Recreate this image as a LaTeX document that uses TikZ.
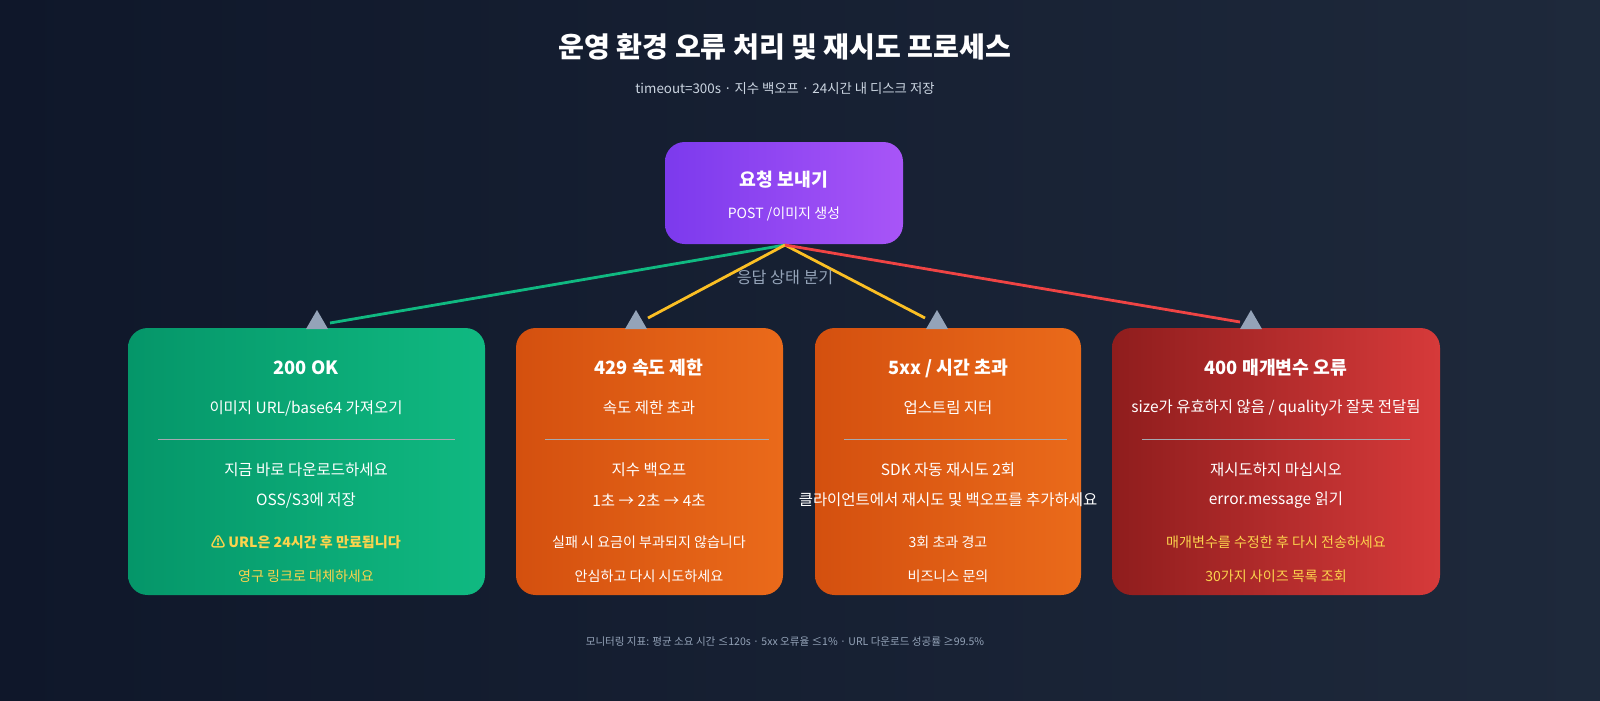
\documentclass[tikz,border=0pt]{standalone}
\usepackage{fontspec}
\setmainfont{Noto Sans CJK KR}
\usetikzlibrary{positioning}
\definecolor{bgA}{HTML}{0F172A}
\definecolor{bgB}{HTML}{1E293B}
\definecolor{grA}{HTML}{059669}
\definecolor{grB}{HTML}{10B981}
\definecolor{orA}{HTML}{D4500F}
\definecolor{orB}{HTML}{EA6A1A}
\definecolor{rdA}{HTML}{8F1D1D}
\definecolor{rdB}{HTML}{D63A3A}
\definecolor{puA}{HTML}{7C3AED}
\definecolor{puB}{HTML}{A855F7}
\definecolor{lnG}{HTML}{10B981}
\definecolor{lnY}{HTML}{FBBF24}
\definecolor{lnR}{HTML}{EF4444}
\definecolor{tipC}{HTML}{94A3B8}
\definecolor{warnC}{HTML}{FCD34D}
\definecolor{subC}{HTML}{CBD5E1}
\tikzset{
  txt/.style={text=white,font=\fontsize{11}{13}\selectfont},
  head/.style={text=white,font=\fontsize{13}{15}\selectfont\bfseries},
  warn/.style={text=warnC,font=\fontsize{10}{12}\selectfont},
  rule/.style={white!60!bgB,line width=0.6pt},
  conn/.style={line width=2pt},
  tip/.style={fill=tipC}
}
\newcommand{\tipat}[1]{\fill[tip] ($(#1)+(-11,5)$) -- ($(#1)+(0,-14)$) -- ($(#1)+(11,5)$) -- cycle;}
\usetikzlibrary{calc}
\begin{document}
\begin{tikzpicture}[x=0.025cm,y=-0.025cm]
\useasboundingbox (0,0) rectangle (1600,700);
\shade[left color=bgA,right color=bgB] (0,0) rectangle (1600,700);
% title
\node[text=white,font=\fontsize{20}{24}\selectfont\bfseries] (title) at (785,47) {운영 환경 오류 처리 및 재시도 프로세스};
\node[text=subC,font=\fontsize{9.5}{11}\selectfont] (sub) at (785,88) {timeout=300s · 지수 백오프 · 24시간 내 디스크 저장};
% boxes
\shade[rounded corners=14,left color=puA,right color=puB] (665,142) rectangle (903,244);
\shade[rounded corners=14,left color=grA,right color=grB] (128,328) rectangle (485,595);
\shade[rounded corners=14,left color=orA,right color=orB] (516,328) rectangle (783,595);
\shade[rounded corners=14,left color=orA,right color=orB] (815,328) rectangle (1081,595);
\shade[rounded corners=14,left color=rdA,right color=rdB] (1112,328) rectangle (1440,595);
\node[head] (req) at (784,180) {요청 보내기};
\node[txt,font=\fontsize{10}{12}\selectfont] (reqsub) at (784,214) {POST /이미지 생성};
\coordinate (src) at (785,245);
% connectors
\coordinate (eG) at (330,323);
\coordinate (eO) at (648,318);
\coordinate (eP) at (925,318);
\coordinate (eR) at (1240,322);
\draw[conn,lnG] (src) -- (eG);
\draw[conn,lnY] (src) -- (eO);
\draw[conn,lnY] (src) -- (eP);
\draw[conn,lnR] (src) -- (eR);
\tipat{317,324}
\tipat{636,324}
\tipat{937,324}
\tipat{1251,324}
\node[text=tipC,font=\fontsize{11.5}{13}\selectfont] (branch) at (785,277) {응답 상태 분기};
% 200
\node[head] (okH) at (306,368) {200 OK};
\node[txt] (okA) at (306,408) {이미지 URL/base64 가져오기};
\draw[rule] (158,439) -- (455,439);
\node[txt] (okB) at (306,470) {지금 바로 다운로드하세요};
\node[txt] (okC) at (306,500) {OSS/S3에 저장};
\node[warn,font=\fontsize{10}{12}\selectfont\bfseries] (okD) at (306,542) {⚠ URL은 24시간 후 만료됩니다};
\node[warn] (okE) at (306,576) {영구 링크로 대체하세요};
% 429
\node[head] (rtH) at (649,368) {429 속도 제한};
\node[txt] (rtA) at (649,408) {속도 제한 초과};
\draw[rule] (545,439) -- (769,439);
\node[txt] (rtB) at (649,470) {지수 백오프};
\node[txt] (rtC) at (649,500) {1초 → 2초 → 4초};
\node[txt,font=\fontsize{10}{12}\selectfont] (rtD) at (649,542) {실패 시 요금이 부과되지 않습니다};
\node[txt,font=\fontsize{10}{12}\selectfont] (rtE) at (649,576) {안심하고 다시 시도하세요};
% 5xx
\node[head] (svH) at (948,368) {5xx / 시간 초과};
\node[txt] (svA) at (948,408) {업스트림 지터};
\draw[rule] (844,439) -- (1067,439);
\node[txt] (svB) at (948,470) {SDK 자동 재시도 2회};
\node[txt] (svC) at (948,500) {클라이언트에서 재시도 및 백오프를 추가하세요};
\node[txt,font=\fontsize{10}{12}\selectfont] (svD) at (948,542) {3회 초과 경고};
\node[txt,font=\fontsize{10}{12}\selectfont] (svE) at (948,576) {비즈니스 문의};
% 400
\node[head] (bdH) at (1276,368) {400 매개변수 오류};
\node[txt] (bdA) at (1276,408) {size가 유효하지 않음 / quality가 잘못 전달됨};
\draw[rule] (1142,439) -- (1410,439);
\node[txt] (bdB) at (1276,470) {재시도하지 마십시오};
\node[txt] (bdC) at (1276,500) {error.message 읽기};
\node[warn] (bdD) at (1276,542) {매개변수를 수정한 후 다시 전송하세요};
\node[warn] (bdE) at (1276,576) {30가지 사이즈 목록 조회};
% footer
\node[text=tipC,font=\fontsize{7.5}{9}\selectfont] (foot) at (785,642) {모니터링 지표: 평균 소요 시간 ≤120s · 5xx 오류율 ≤1\% · URL 다운로드 성공률 ≥99.5\%};
\end{tikzpicture}
\end{document}
